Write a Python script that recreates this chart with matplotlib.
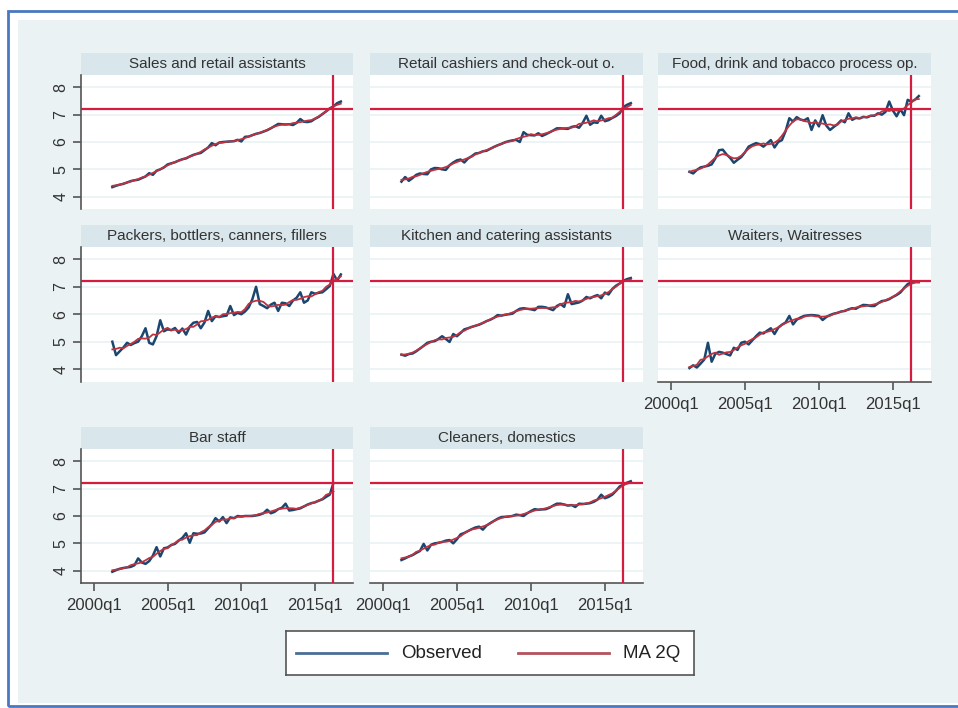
import matplotlib
matplotlib.use("Agg")
import matplotlib.pyplot as plt
import matplotlib.patches as patches
import numpy as np
import pandas as pd

plt.rcParams['font.family'] = ['Liberation Sans', 'DejaVu Sans']

# quarters counted from 2000q1 (= 0)
start_q = 5          # 2001q2
ref_q = 65           # 2016q2, reference date
ref_wage = 7.2

titles = ['Sales and retail assistants',
          'Retail cashiers and check-out o.',
          'Food, drink and tobacco process op.',
          'Packers, bottlers, canners, fillers',
          'Kitchen and catering assistants',
          'Waiters, Waitresses',
          'Bar staff',
          'Cleaners, domestics']

sales = [4.35, 4.40, 4.44, 4.47, 4.52, 4.57, 4.60, 4.62, 4.68, 4.74, 4.86, 4.80, 4.95, 5.00, 5.07, 5.18,
         5.22, 5.26, 5.32, 5.37, 5.40, 5.47, 5.53, 5.57, 5.60, 5.70, 5.80, 5.96, 5.88, 5.98, 6.00, 6.01,
         6.02, 6.03, 6.08, 6.02, 6.19, 6.20, 6.25, 6.30, 6.33, 6.38, 6.43, 6.50, 6.58, 6.66, 6.65, 6.64,
         6.65, 6.62, 6.70, 6.84, 6.74, 6.73, 6.76, 6.85, 6.92, 7.02, 7.12, 7.23, 7.30, 7.42, 7.48]
cashiers = [4.55, 4.72, 4.58, 4.68, 4.80, 4.85, 4.83, 4.82, 5.00, 5.05, 5.04, 5.00, 4.98, 5.15, 5.25, 5.33,
            5.36, 5.25, 5.40, 5.48, 5.58, 5.60, 5.66, 5.68, 5.75, 5.82, 5.88, 5.93, 5.99, 6.03, 6.06, 6.08,
            6.00, 6.36, 6.26, 6.25, 6.24, 6.32, 6.22, 6.28, 6.35, 6.42, 6.50, 6.50, 6.49, 6.48, 6.55, 6.58,
            6.52, 6.70, 6.96, 6.63, 6.72, 6.70, 6.96, 6.76, 6.80, 6.88, 6.95, 7.05, 7.28, 7.36, 7.42]
food = [4.91, 4.85, 4.98, 5.07, 5.10, 5.13, 5.18, 5.40, 5.70, 5.72, 5.55, 5.42, 5.24, 5.35, 5.45, 5.62,
        5.83, 5.90, 5.96, 5.92, 5.83, 5.95, 6.07, 5.80, 6.00, 6.07, 6.40, 6.87, 6.75, 6.91, 6.82, 6.79,
        6.87, 6.44, 6.79, 6.57, 6.98, 6.60, 6.44, 6.55, 6.65, 6.79, 6.72, 7.05, 6.81, 6.88, 6.86, 6.92,
        6.90, 6.96, 6.96, 7.05, 7.00, 7.10, 7.48, 7.15, 6.94, 7.20, 6.98, 7.54, 7.48, 7.55, 7.68]
packers = [5.00, 4.51, 4.65, 4.79, 4.96, 4.88, 4.95, 5.00, 5.20, 5.49, 4.96, 4.90, 5.20, 5.78, 5.38, 5.45,
           5.42, 5.50, 5.32, 5.48, 5.26, 5.55, 5.69, 5.72, 5.49, 5.70, 6.12, 5.75, 5.93, 5.90, 5.93, 5.95,
           6.30, 5.97, 6.05, 6.00, 6.10, 6.25, 6.55, 7.00, 6.37, 6.30, 6.22, 6.35, 6.42, 6.12, 6.42, 6.40,
           6.30, 6.50, 6.60, 6.80, 6.42, 6.50, 6.80, 6.75, 6.78, 6.80, 6.91, 7.03, 7.47, 7.22, 7.45]
kitchen = [4.53, 4.49, 4.55, 4.57, 4.65, 4.75, 4.85, 4.96, 5.00, 5.02, 5.10, 5.20, 5.10, 4.99, 5.28, 5.20,
           5.32, 5.45, 5.49, 5.54, 5.58, 5.62, 5.68, 5.75, 5.80, 5.87, 5.97, 5.95, 5.98, 6.00, 6.02, 6.12,
           6.20, 6.22, 6.20, 6.18, 6.15, 6.27, 6.27, 6.25, 6.20, 6.15, 6.30, 6.37, 6.27, 6.73, 6.37, 6.40,
           6.43, 6.50, 6.63, 6.58, 6.65, 6.70, 6.58, 6.79, 6.72, 6.92, 7.04, 7.12, 7.22, 7.28, 7.32]
waiters = [4.04, 4.14, 4.06, 4.20, 4.35, 4.96, 4.27, 4.56, 4.63, 4.60, 4.55, 4.50, 4.78, 4.70, 4.96, 5.00,
           4.90, 5.05, 5.20, 5.33, 5.30, 5.40, 5.49, 5.28, 5.51, 5.62, 5.70, 5.94, 5.63, 5.80, 5.88, 5.94,
           5.96, 5.97, 5.96, 5.94, 5.79, 5.90, 5.97, 6.02, 6.05, 6.10, 6.12, 6.18, 6.22, 6.20, 6.28, 6.34,
           6.33, 6.30, 6.30, 6.40, 6.48, 6.50, 6.55, 6.63, 6.70, 6.79, 6.95, 7.10, 7.16, 7.18, 7.17]
bar = [3.96, 4.02, 4.07, 4.10, 4.12, 4.14, 4.20, 4.45, 4.30, 4.25, 4.35, 4.55, 4.86, 4.52, 4.82, 4.85,
       4.94, 4.98, 5.10, 5.20, 5.37, 5.02, 5.37, 5.35, 5.36, 5.40, 5.55, 5.70, 5.92, 5.80, 5.96, 5.74,
       5.95, 5.92, 6.00, 5.98, 6.00, 6.00, 6.00, 6.02, 6.05, 6.10, 6.23, 6.10, 6.15, 6.25, 6.30, 6.45,
       6.20, 6.22, 6.25, 6.28, 6.35, 6.42, 6.47, 6.50, 6.56, 6.61, 6.70, 6.78, 7.21]
cleaners = [4.39, 4.45, 4.52, 4.57, 4.65, 4.72, 4.98, 4.74, 4.95, 5.00, 5.02, 5.05, 5.10, 5.12, 5.00, 5.15,
            5.33, 5.38, 5.45, 5.52, 5.58, 5.61, 5.50, 5.65, 5.74, 5.82, 5.90, 5.96, 5.97, 5.98, 6.00, 6.05,
            6.03, 6.00, 6.10, 6.18, 6.25, 6.23, 6.24, 6.25, 6.30, 6.38, 6.45, 6.45, 6.42, 6.38, 6.40, 6.33,
            6.45, 6.44, 6.45, 6.47, 6.52, 6.60, 6.78, 6.65, 6.70, 6.78, 6.92, 7.08, 7.15, 7.22, 7.27]

series = [sales, cashiers, food, packers, kitchen, waiters, bar, cleaners]

xticks = [0, 20, 40, 60]
xtick_labels = ['2000q1', '2005q1', '2010q1', '2015q1']
yticks = [4, 5, 6, 7, 8]

W, H = 958, 708
fig = plt.figure(figsize=(W / 100, H / 100), dpi=100, facecolor='white')

def fbox(x0, y0, x1, y1):
    return [x0 / W, 1 - y1 / H, (x1 - x0) / W, (y1 - y0) / H]

# screenshot frame + stata graph region (kept behind the axes)
fig.add_artist(patches.Rectangle((18 / W, 1 - 703 / H), (W - 18) / W, (703 - 20) / H,
                                 transform=fig.transFigure, facecolor='#eaf2f3', edgecolor='none',
                                 zorder=-10))
fig.add_artist(patches.Rectangle((8 / W, 1 - 706 / H), (W + 10) / W, (706 - 11) / H,
                                 transform=fig.transFigure, facecolor='none', edgecolor='#4a78c0', lw=2,
                                 zorder=-9))

cols = [(81, 353), (370, 643), (658, 931)]
rows = [(75, 209), (247, 381.5), (449, 583)]
strip_h = 22

obs_col = '#1a476f'
ma_col = '#c0323f'
ref_col = '#d31c40'

for i, (title, vals) in enumerate(zip(titles, series)):
    r, c = divmod(i, 3)
    x0, x1 = cols[c]
    y0, y1 = rows[r]
    fig.add_artist(patches.Rectangle((x0 / W, 1 - y0 / H), (x1 - x0) / W, strip_h / H,
                                     transform=fig.transFigure, facecolor='#d9e6eb', edgecolor='none',
                                     zorder=-8))
    fig.text((x0 + x1) / 2 / W, 1 - (y0 - strip_h / 2) / H, title, ha='center', va='center',
             fontsize=11, color='#333333')

    ax = fig.add_axes(fbox(x0, y0, x1, y1))
    ax.set_facecolor('white')
    q = np.arange(start_q, start_q + len(vals))
    obs = pd.Series(vals, index=q)
    ma = obs.rolling(5, center=True, min_periods=1).mean()

    for yv in yticks:
        ax.axhline(yv, color='#eaf2f3', lw=1.2, zorder=0)
    ax.plot(q, obs.values, color=obs_col, lw=1.8, zorder=2)
    ax.plot(q, ma.values, color=ma_col, lw=1.3, zorder=3)
    ax.axhline(ref_wage, color=ref_col, lw=1.6, zorder=4)
    ax.axvline(ref_q, color=ref_col, lw=1.6, zorder=4)

    ax.set_xlim(-3.5, 70.3)
    ax.set_ylim(3.55, 8.45)
    for s in ['top', 'right']:
        ax.spines[s].set_visible(False)

    bottom_panel = i >= 5
    left_panel = c == 0
    ax.spines['bottom'].set_visible(bottom_panel)
    ax.spines['left'].set_visible(left_panel)
    for s in ['bottom', 'left']:
        ax.spines[s].set_color('#555555')
        ax.spines[s].set_linewidth(1.2)

    ax.set_yticks(yticks)
    ax.set_xticks(xticks)
    if left_panel:
        ax.set_yticklabels([str(v) for v in yticks], rotation=90, va='center', fontsize=11.5, color='#333333')
        ax.tick_params(axis='y', length=6, width=1.2, color='#555555', pad=3)
    else:
        ax.tick_params(axis='y', left=False, labelleft=False)
    if bottom_panel:
        ax.set_xticklabels(xtick_labels, fontsize=12, color='#333333')
        ax.tick_params(axis='x', length=6, width=1.2, color='#555555', pad=5)
    else:
        ax.tick_params(axis='x', bottom=False, labelbottom=False)

# legend box
lax = fig.add_axes(fbox(286, 631, 694, 675))
lax.set_xlim(286, 694)
lax.set_ylim(675, 631)
lax.set_xticks([])
lax.set_yticks([])
for s in lax.spines.values():
    s.set_color('#555555')
    s.set_linewidth(1.2)
lax.plot([296, 387], [653, 653], color='#4a6f96', lw=2)
lax.text(401, 653, 'Observed', va='center', ha='left', fontsize=13.5, color='#222222')
lax.plot([518, 609], [653, 653], color='#b2535c', lw=2)
lax.text(623, 653, 'MA 2Q', va='center', ha='left', fontsize=13.5, color='#222222')

fig.savefig('out.png', dpi=100, facecolor=fig.get_facecolor())
